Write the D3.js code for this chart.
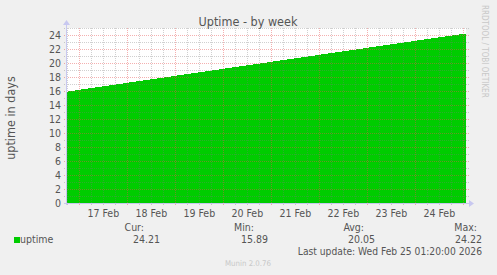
<!DOCTYPE html>
<html>
<head>
<meta charset="utf-8">
<script src="https://cdn.jsdelivr.net/npm/d3@7"></script>
<style>
  body { margin: 0; background: #f0f0f0; }
  svg { display: block; font-family: "DejaVu Sans Condensed", "DejaVu Sans", sans-serif; font-stretch: condensed; }
</style>
</head>
<body>
<div id="chart"></div>
<script>
// samples (uptime in days)
var sampleTimes = ['2026-02-16T17:20:00Z', '2026-02-17T00:00:00Z', '2026-02-18T00:00:00Z',
  '2026-02-19T00:00:00Z', '2026-02-20T00:00:00Z', '2026-02-21T00:00:00Z', '2026-02-22T00:00:00Z',
  '2026-02-23T00:00:00Z', '2026-02-24T00:00:00Z', '2026-02-25T00:00:00Z', '2026-02-25T01:20:00Z'];
var uptimeValues = [15.89, 16.17, 17.17, 18.17, 19.17, 20.17, 21.17, 22.17, 23.17, 24.17, 24.22];
var yTicks = [0, 2, 4, 6, 8, 10, 12, 14, 16, 18, 20, 22, 24];
var dayLabels = ['17 Feb', '18 Feb', '19 Feb', '20 Feb', '21 Feb', '22 Feb', '23 Feb', '24 Feb'];
var legendHeads = ['Cur:', 'Min:', 'Avg:', 'Max:'];
var legendValues = ['24.21', '15.89', '20.05', '24.22'];

var w = 497, h = 275;
var pl = 66, pr = 466, pt = 28, pb = 203;
var textColor = '#555';

var svg = d3.select('#chart').append('svg')
  .attr('width', w).attr('height', h);

svg.append('rect').attr('width', w).attr('height', h).attr('fill', '#f0f0f0');

var start = new Date(sampleTimes[0]), end = new Date(sampleTimes[sampleTimes.length - 1]);
var x = d3.scaleUtc().domain([start, end]).range([pl, pr]);
var y = d3.scaleLinear().domain([0, 25]).range([pb, pt]);

svg.append('rect')
  .attr('x', pl).attr('y', pt)
  .attr('width', pr - pl).attr('height', pb - pt)
  .attr('fill', '#ffffff');

var data = sampleTimes.map(function(t, i) {
  return { t: new Date(t), v: uptimeValues[i] };
});

var area = d3.area()
  .x(function(d) { return x(d.t); })
  .y0(y(0))
  .y1(function(d) { return y(d.v); });

svg.append('path')
  .datum(data)
  .attr('d', area)
  .attr('fill', '#00cc00')
  .attr('shape-rendering', 'crispEdges');

// grid
var grid = svg.append('g').attr('shape-rendering', 'crispEdges');
d3.range(1, 26).forEach(function(v) {
  var major = v % 2 == 0;
  grid.append('line')
    .attr('x1', pl - 2).attr('x2', pr + 3)
    .attr('y1', Math.round(y(v)) + 0.5).attr('y2', Math.round(y(v)) + 0.5)
    .attr('stroke', major ? 'rgba(230,80,80,0.45)' : 'rgba(120,120,120,0.35)')
    .attr('stroke-dasharray', '1,1');
});

var sixHours = d3.utcHour.every(6).range(start, end);
sixHours.forEach(function(t) {
  var major = t.getUTCHours() == 0;
  grid.append('line')
    .attr('x1', Math.round(x(t)) + 0.5).attr('x2', Math.round(x(t)) + 0.5)
    .attr('y1', pt).attr('y2', pb + 3)
    .attr('stroke', major ? 'rgba(230,80,80,0.45)' : 'rgba(120,120,120,0.35)')
    .attr('stroke-dasharray', '1,1');
});

// axes
var axisColor = '#c8c8f0';
svg.append('line')
  .attr('x1', pl + 0.5).attr('x2', pl + 0.5)
  .attr('y1', pb + 2).attr('y2', pt - 4)
  .attr('stroke', axisColor);
svg.append('path')
  .attr('d', 'M' + (pl - 3) + ',' + (pt - 3) + 'L' + (pl + 0.5) + ',' + (pt - 8) + 'L' + (pl + 4) + ',' + (pt - 3) + 'Z')
  .attr('fill', axisColor);
svg.append('line')
  .attr('x1', pl - 2).attr('x2', pr + 4)
  .attr('y1', pb + 0.5).attr('y2', pb + 0.5)
  .attr('stroke', axisColor);
svg.append('path')
  .attr('d', 'M' + (pr + 3) + ',' + (pb - 3) + 'L' + (pr + 8) + ',' + (pb + 0.5) + 'L' + (pr + 3) + ',' + (pb + 4) + 'Z')
  .attr('fill', axisColor);

// y tick labels
svg.selectAll('text.ytick')
  .data(yTicks)
  .enter()
  .append('text')
  .attr('class', 'ytick')
  .text(function(d) { return d; })
  .attr('x', 61)
  .attr('y', function(d) { return y(d) + 4; })
  .attr('text-anchor', 'end')
  .attr('font-size', '10.5px')
  .attr('fill', textColor);

// x labels at noon of each day
svg.selectAll('text.xtick')
  .data(dayLabels)
  .enter()
  .append('text')
  .attr('class', 'xtick')
  .text(function(d) { return d; })
  .attr('x', function(d, i) {
    return x(d3.utcHour.offset(new Date(Date.UTC(2026, 1, 17 + i)), 12));
  })
  .attr('y', 216.5)
  .attr('text-anchor', 'middle')
  .attr('font-size', '10.5px')
  .attr('fill', textColor);

svg.append('text')
  .text('Uptime - by week')
  .attr('x', 248).attr('y', 26)
  .attr('text-anchor', 'middle')
  .attr('font-size', '12.5px')
  .attr('fill', textColor);

svg.append('text')
  .text('uptime in days')
  .attr('transform', 'translate(15,118) rotate(-90)')
  .attr('text-anchor', 'middle')
  .attr('font-size', '12.5px')
  .attr('fill', textColor);

svg.append('text')
  .text('RRDTOOL / TOBI OETIKER')
  .attr('transform', 'translate(482,5) rotate(90)')
  .attr('font-size', '8px')
  .attr('fill', '#c8c8c8');

// legend
var headX = [144, 254, 364, 477];
var valX = [160, 268, 375, 482];
legendHeads.forEach(function(s, i) {
  svg.append('text').text(s)
    .attr('x', headX[i]).attr('y', 231)
    .attr('text-anchor', 'end')
    .attr('font-size', '10.5px').attr('fill', textColor);
  svg.append('text').text(legendValues[i])
    .attr('x', valX[i]).attr('y', 243)
    .attr('text-anchor', 'end')
    .attr('font-size', '10.5px').attr('fill', textColor);
});

svg.append('rect')
  .attr('x', 14).attr('y', 237).attr('width', 6).attr('height', 6)
  .attr('fill', '#00cc00');
svg.append('text').text('uptime')
  .attr('x', 20).attr('y', 243)
  .attr('font-size', '10.5px').attr('fill', textColor);

svg.append('text').text('Last update: Wed Feb 25 01:20:00 2026')
  .attr('x', 482).attr('y', 254.5)
  .attr('text-anchor', 'end')
  .attr('font-size', '10.2px').attr('fill', textColor);

svg.append('text').text('Munin 2.0.76')
  .attr('x', 248).attr('y', 265.5)
  .attr('text-anchor', 'middle')
  .attr('font-size', '7.8px').attr('fill', '#c8c8c8');
</script>
</body>
</html>
